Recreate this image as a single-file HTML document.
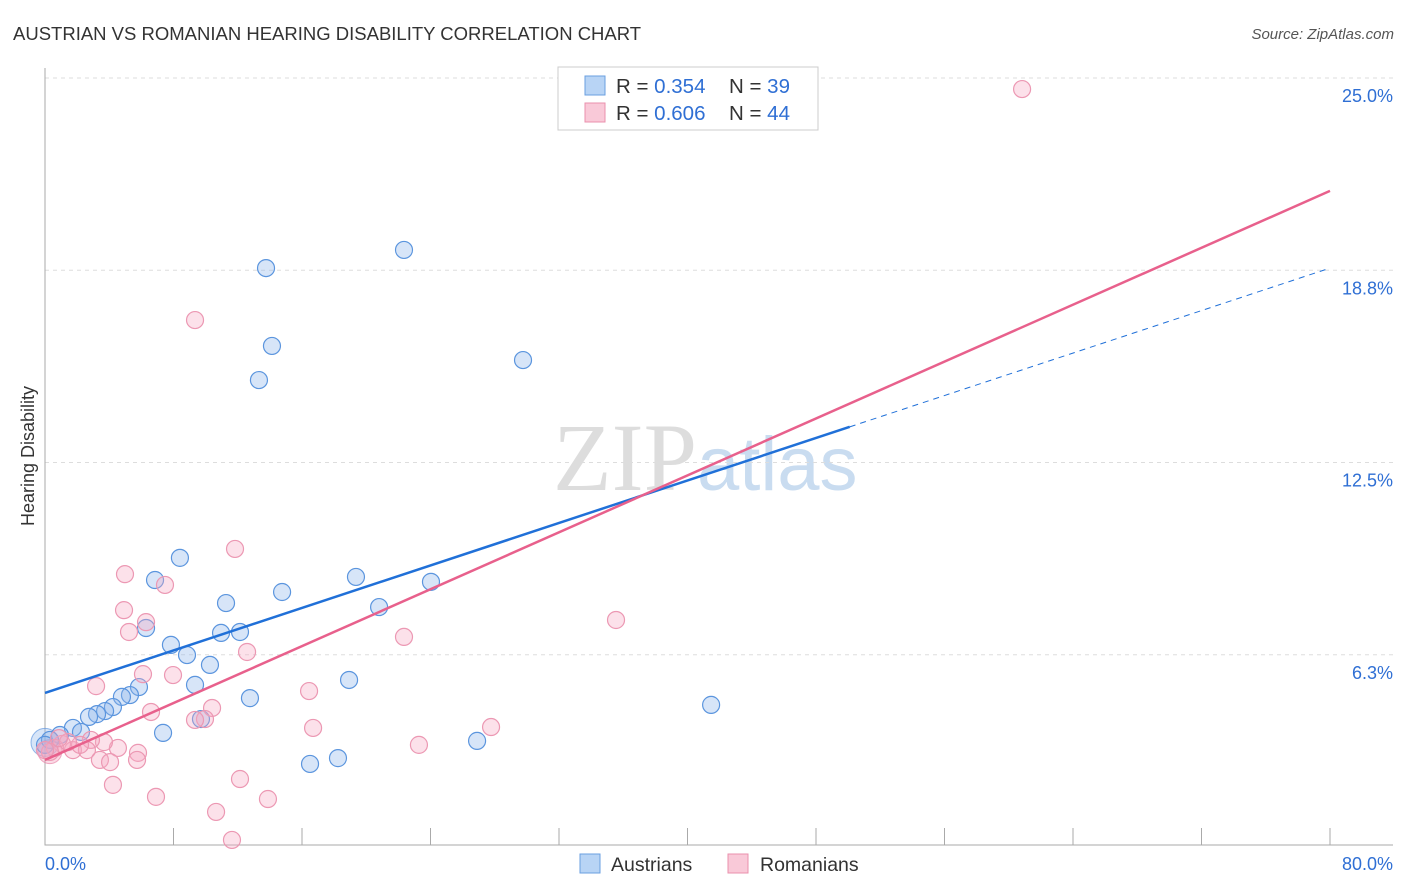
<!DOCTYPE html>
<html><head><meta charset="utf-8"><style>
body{margin:0;background:#fff;font-family:"Liberation Sans",sans-serif;}
svg{display:block}
</style></head><body>
<svg id="chart" width="1406" height="892" viewBox="0 0 1406 892">
<text x="13" y="40" font-size="18.5" fill="#333">AUSTRIAN VS ROMANIAN HEARING DISABILITY CORRELATION CHART</text>
<text x="1394" y="39" font-size="15" fill="#555" font-style="italic" text-anchor="end">Source: ZipAtlas.com</text>
<text x="553" y="490" font-size="96" fill="#ddd" font-family="Liberation Serif,serif">ZIP<tspan fill="#c9dcf0" font-family="Liberation Sans,sans-serif" font-size="76">atlas</tspan></text>
<g id="grid"></g>
<g id="axes"></g>
<g id="marks"></g>
<text transform="translate(34,456) rotate(-90)" font-size="18" fill="#333" text-anchor="middle">Hearing Disability</text>
<g>
<rect x="558" y="67" width="260" height="63" fill="#fff" stroke="#ccc"/>
<rect x="585" y="76" width="20" height="19" fill="#b8d4f5" stroke="#6a9fe0"/>
<rect x="585" y="103" width="20" height="19" fill="#f9c9d8" stroke="#ea90ad"/>
<text x="616" y="93" font-size="20.5" fill="#333">R = <tspan fill="#2f6fd4">0.354</tspan></text>
<text x="729" y="93" font-size="20.5" fill="#333">N = <tspan fill="#2f6fd4">39</tspan></text>
<text x="616" y="120" font-size="20.5" fill="#333">R = <tspan fill="#2f6fd4">0.606</tspan></text>
<text x="729" y="120" font-size="20.5" fill="#333">N = <tspan fill="#2f6fd4">44</tspan></text>
</g>
<g>
<rect x="580" y="854" width="20" height="19" fill="#b8d4f5" stroke="#6a9fe0"/>
<text x="611" y="871" font-size="19.5" fill="#333">Austrians</text>
<rect x="728" y="854" width="20" height="19" fill="#f9c9d8" stroke="#ea90ad"/>
<text x="760" y="871" font-size="19.5" fill="#333">Romanians</text>
</g>
</svg>
<script>
const yTicks=[6.25,12.5,18.75,25];
const yTickLabels=["6.3%","12.5%","18.8%","25.0%"];
const xTickLabels=["0.0%","80.0%"];
const austX=[13.76,22.35,14.13,13.32,29.76,8.40,6.85,19.36,24.03,14.76,11.27,20.80,6.29,10.96,12.14,7.84,8.84,10.27,9.34,5.85,5.29,4.79,12.76,18.93,4.23,3.74,3.24,2.74,1.74,2.24,7.35,9.71,26.9,41.47,18.24,16.5,0.93,0.31,0];
const austY=[18.82,19.41,16.29,15.18,15.83,9.40,8.68,8.78,8.62,8.29,7.93,7.80,7.12,6.96,6.99,6.57,6.24,5.92,5.27,5.20,4.94,4.88,4.84,5.43,4.55,4.42,4.32,4.23,3.87,3.74,3.71,4.16,3.45,4.62,2.89,2.70,3.64,3.48,3.32];
const romX=[60.83,9.34,11.83,4.98,7.47,4.92,6.29,5.23,35.55,22.35,12.58,6.10,7.97,3.18,16.44,6.60,10.40,9.96,16.69,27.77,23.28,4.54,5.79,3.67,2.86,1.74,1.06,0.62,2.61,3.42,4.05,5.73,12.14,4.23,6.91,13.88,10.65,11.64,0.31,0,2.18,1.43,0.87,9.34];
const romY=[24.64,17.13,9.69,8.87,8.52,7.70,7.31,6.99,7.38,6.83,6.34,5.62,5.59,5.23,5.07,4.39,4.52,4.16,3.87,3.90,3.32,3.22,3.06,3.41,3.48,3.15,3.35,3.22,3.15,2.83,2.76,2.83,2.21,2.02,1.63,1.56,1.14,0.23,3.09,3.15,3.32,3.41,3.54,4.13];
const austTrend=[5.01,18.82]; // value at x=0 and x=80
const austSolidEnd=50.1;
const romTrend=[2.83,21.33];
const NS="http://www.w3.org/2000/svg";
const X=v=>45+v/80*1285;
const Y=v=>847-v*30.76;
function mk(tag,attrs,parent){const e=document.createElementNS(NS,tag);for(const k in attrs)e.setAttribute(k,attrs[k]);parent.appendChild(e);return e;}
const grid=document.getElementById('grid'),axes=document.getElementById('axes'),marks=document.getElementById('marks');
yTicks.forEach((t,i)=>{
 const l=mk('line',{x1:45,x2:1393,y1:Y(t),y2:Y(t),stroke:'#ddd','stroke-dasharray':'4,4'},grid);
 
 
 const tx=mk('text',{x:1393,y:Y(t)+24,'font-size':18,fill:'#2f6fd4','text-anchor':'end'},axes);
 tx.textContent=yTickLabels[i];
 
 
});
const ax=mk('path',{d:'M45,68V845H1393',fill:'none',stroke:'#aaa'},axes);


for(let i=1;i<=10;i++){const t=mk('line',{x1:X(i*8),x2:X(i*8),y1:828,y2:845,stroke:'#aaa'},axes);
 
 }
[[0,'start',45],[80,'end',1393]].forEach((d,i)=>{const t=mk('text',{x:d[2],y:870,'font-size':18,fill:'#2f6fd4','text-anchor':d[1]},axes);t.textContent=xTickLabels[i];
 
 });
mk('circle',{cx:X(0),cy:Y(3.4),r:14,fill:'rgba(140,180,235,0.35)',stroke:'rgba(80,140,220,0.6)'},marks);
mk('circle',{cx:X(0.3),cy:Y(3.1),r:12,fill:'rgba(240,150,180,0.35)',stroke:'rgba(230,120,160,0.6)'},marks);
austX.forEach((v,i)=>{const c=mk('circle',{cx:X(v),cy:Y(austY[i]),r:8.5,fill:'rgba(140,180,235,0.35)',stroke:'#5b95de','stroke-width':1.2},marks);
 
 });
romX.forEach((v,i)=>{const c=mk('circle',{cx:X(v),cy:Y(romY[i]),r:8.5,fill:'rgba(245,170,195,0.35)',stroke:'#ec98b3','stroke-width':1.2},marks);
 
 });
const ay=x=>austTrend[0]+(austTrend[1]-austTrend[0])*x/80;
let l=mk('line',{x1:X(0),y1:Y(ay(0)),x2:X(austSolidEnd),y2:Y(ay(austSolidEnd)),stroke:'#2070d8','stroke-width':2.5},marks);


l=mk('line',{x1:X(austSolidEnd),y1:Y(ay(austSolidEnd)),x2:X(80),y2:Y(ay(80)),stroke:'#2070d8','stroke-width':1,'stroke-dasharray':'6,5'},marks);


l=mk('line',{x1:X(0),y1:Y(romTrend[0]),x2:X(80),y2:Y(romTrend[1]),stroke:'#e8608c','stroke-width':2.5},marks);


</script>
</body></html>
